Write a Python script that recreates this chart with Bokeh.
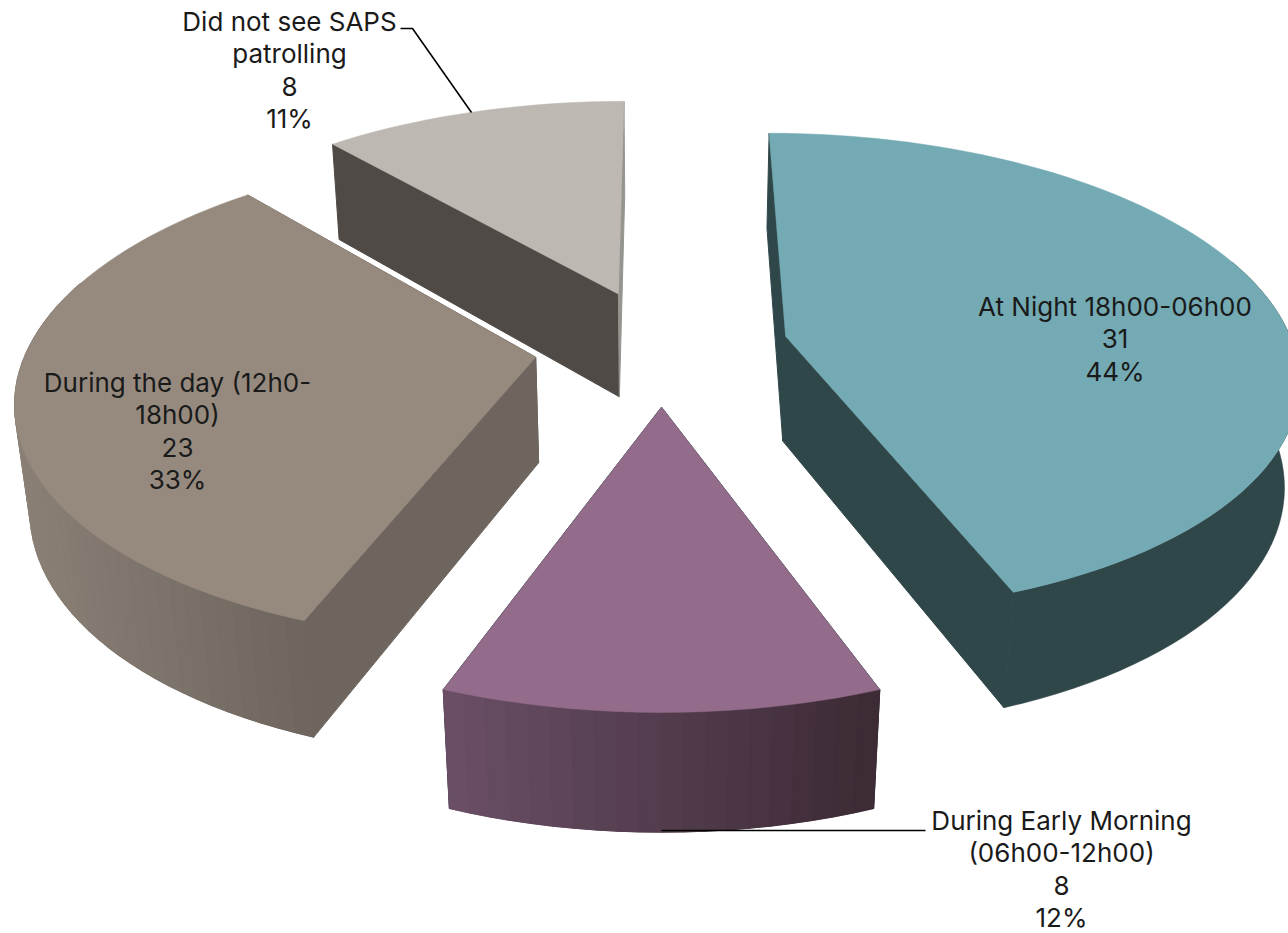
import math
from bokeh.plotting import figure
from bokeh.models import Range1d, ColumnDataSource
from bokeh.core.properties import value
from bokeh.embed import file_html
from bokeh.resources import INLINE

# ---- data ----
categories = ["At Night 18h00-06h00", "During Early Morning (06h00-12h00)",
              "During the day (12h0-18h00)", "Did not see SAPS patrolling"]
counts = [31, 8, 23, 8]
percent_labels = ["44%", "12%", "33%", "11%"]
label_lines = [["At Night 18h00-06h00", "31", "44%"],
               ["During Early Morning", "(06h00-12h00)", "8", "12%"],
               ["During the day (12h0-", "18h00)", "23", "33%"],
               ["Did not see SAPS", "patrolling", "8", "11%"]]

# ---- style / layout ----
label_x = [1114.5, 1061, 177, 289]
label_y0 = [306, 820, 382, 21]
line_pitch = 32.4
top_colors = ["#73aab3", "#926c8a", "#968a7f", "#bdb8b2"]
wall_left = ["#30474a", "#6a4f66", "#8a8076", "#4f4a45"]
wall_right = ["#30474a", "#3c2a35", "#6e665e", "#4f4a45"]
cut_start_colors = ["#30474a", "#30474a", "#6e665e", "#4f4a45"]
cut_end_colors = ["#30474a", "#30474a", "#6e665e", "#96948f"]
FONT = "Inter"
FONT_SIZE = "26px"

# perspective pie geometry (plane with radius 1 -> page pixels)
VX, VY = 661.0, -1193.0
AX = 0.33
K0, K1 = 6.497e-4, 1.002e-4
ZVY = 4900.0
ZT = 1.5e-5
EXPLODE_X = 0.25
EXPLODE_Y = 0.245
WALL_FACING = 0.35


def top_pt(X, Y):
    u = 1.0 / (K0 + K1 * Y)
    return VX + X * AX * u, VY + u


def bottom_pt(X, Y):
    u = 1.0 / (K0 + K1 * Y)
    sx, sy = VX + X * AX * u, VY + u
    t = ZT * u
    return sx + t * (VX - sx), sy + t * (ZVY - sy)


def mix(c1, c2, f):
    a = [int(c1[i:i + 2], 16) for i in (1, 3, 5)]
    b = [int(c2[i:i + 2], 16) for i in (1, 3, 5)]
    return "#%02x%02x%02x" % tuple(round(p + (q - p) * f) for p, q in zip(a, b))


total = sum(counts)
spans = []
acc = 0.0
for c in counts:
    spans.append((acc, acc + c / total * 2 * math.pi))
    acc += c / total * 2 * math.pi

p = figure(width=1288, height=933, x_range=Range1d(0, 1288), y_range=Range1d(933, 0),
           x_axis_location=None, y_axis_location=None, toolbar_location=None,
           output_backend="svg", min_border=0, outline_line_color=None,
           background_fill_color="white", border_fill_color="white")
p.xgrid.visible = False
p.ygrid.visible = False

for i in [3, 2, 0, 1]:
    a0, a1 = spans[i]
    mid = (a0 + a1) / 2
    ox, oy = EXPLODE_X * math.sin(mid), EXPLODE_Y * math.cos(mid)
    n = max(8, int(math.degrees(a1 - a0) / 2))
    angs = [a0 + (a1 - a0) * k / n for k in range(n + 1)]
    arc = [(ox + math.sin(a), oy + math.cos(a)) for a in angs]
    tops = [top_pt(*q) for q in arc]
    bots = [bottom_pt(*q) for q in arc]
    apex_t = top_pt(ox, oy)
    apex_b = bottom_pt(ox, oy)

    # the two cut faces
    for e_t, e_b, col in ((tops[0], bots[0], cut_start_colors[i]),
                          (tops[-1], bots[-1], cut_end_colors[i])):
        p.patch([apex_t[0], e_t[0], e_b[0], apex_b[0]],
                [apex_t[1], e_t[1], e_b[1], apex_b[1]],
                fill_color=col, line_color=col, line_width=1)

    # outer wall (only the part that faces the viewer)
    front = [k for k in range(n + 1) if math.cos(angs[k]) < WALL_FACING]
    if len(front) >= 2:
        tf = [tops[k] for k in front]
        bf = [bots[k] for k in front]
        p.patch([q[0] for q in tf] + [q[0] for q in bf[::-1]],
                [q[1] for q in tf] + [q[1] for q in bf[::-1]],
                fill_color=wall_right[i], line_color=wall_right[i], line_width=0.6)
        if wall_left[i] != wall_right[i]:
            xmin = min(q[0] for q in tf)
            xmax = max(q[0] for q in tf)
            order = sorted(range(len(front) - 1), key=lambda k: tf[k][0])
            xs, ys, cs = [], [], []
            for k in order:
                xs.append([tf[k][0], tf[k + 1][0], bf[k + 1][0], bf[k][0]])
                ys.append([tf[k][1], tf[k + 1][1], bf[k + 1][1], bf[k][1]])
                f = ((tf[k][0] + tf[k + 1][0]) / 2 - xmin) / (xmax - xmin)
                cs.append(mix(wall_left[i], wall_right[i], f))
            p.patches(xs, ys, fill_color=cs, line_color=cs, line_width=1.2)

    # top face
    p.patch([apex_t[0]] + [q[0] for q in tops], [apex_t[1]] + [q[1] for q in tops],
            fill_color=top_colors[i], line_color=top_colors[i], line_width=0.5)

# leader lines run from each label's text to its slice
p.line([400, 412, 471], [28, 28, 112], line_color="black", line_width=1.6)
p.line([661, 925], [830, 830], line_color="black", line_width=1.6)

tx, ty, tt = [], [], []
for i, lines in enumerate(label_lines):
    for j, s in enumerate(lines):
        tx.append(label_x[i])
        ty.append(label_y0[i] + j * line_pitch)
        tt.append(s)
p.text(x="x", y="y", text="t", source=ColumnDataSource(dict(x=tx, y=ty, t=tt)),
       text_align="center", text_baseline="middle", text_color="#1a1a1a",
       text_font=value(FONT), text_font_size=FONT_SIZE)

open("out.html", "w").write(file_html(p, INLINE))
